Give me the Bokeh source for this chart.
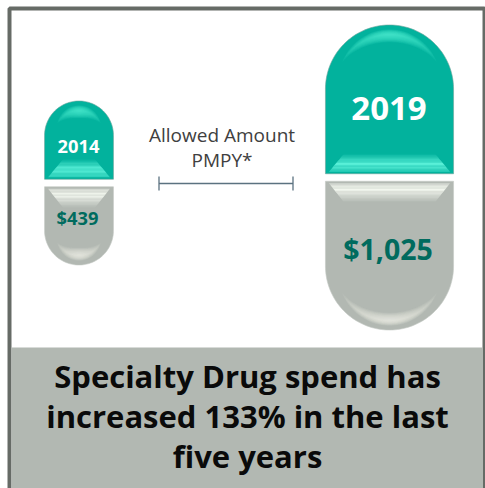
import numpy as np
from bokeh.core.properties import value
from bokeh.embed import file_html
from bokeh.models import Range1d
from bokeh.plotting import figure
from bokeh.resources import INLINE

years = ["2014", "2019"]
allowed_amount = [439, 1025]
amount_labels = ["$439", "$1,025"]
metric_lines = ["Allowed Amount", "PMPY*"]
summary_lines = ["Specialty Drug spend has", "increased 133% in the last", "five years"]

W, H = 485, 488
TEAL = "#02B29D"
TEAL_LIGHT = "#5CF2DA"
GREY = "#B2B8B2"
GREY_LIGHT = "#F4F8F0"
FRAME = "#666B66"
DARK_TEAL = "#006B5E"
FONT = value("Open Sans")

# Capsule size grows linearly with the dollar amount.
def capsule_height(amount):
    return 58.4 + 0.2406 * amount

centres_x = [78.5, 389.0]
centres_y = [182.5, 177.0]
font_px = [[18.3, 18.3], [33, 28.5]]
amount_offset = [0.21, 0.235]
GAP = 7.5

p = figure(width=W, height=H, output_backend="svg", toolbar_location=None,
           x_range=Range1d(0, W), y_range=Range1d(H, 0),
           min_border=0, outline_line_color=None, background_fill_color="white")
p.axis.visible = False
p.grid.visible = False


def half_capsule(cx, join_y, tip_y, width):
    """Outline of one half: flat edge at join_y, round cap ending at tip_y."""
    r = width / 2
    sign = 1 if tip_y > join_y else -1
    cap_y = tip_y - sign * r
    a = np.linspace(-np.pi / 2, np.pi / 2, 90)
    xs = cx + r * np.sin(a)
    ys = cap_y + sign * r * np.cos(a)
    return np.r_[cx - r, xs, cx + r], np.r_[join_y, ys, join_y], cap_y, sign, r


def glow(cx, cap_y, sign, r, colour, inset, max_angle, thickness, layers=12, alpha=0.1):
    """Soft crescent inside the round cap, built from stacked translucent lenses."""
    for i in range(layers):
        t = i / (layers - 1)
        limit = max_angle * (1 - 0.85 * t)
        half = thickness * (1 - 0.85 * t)
        a = np.linspace(-limit, limit, 40)
        bulge = np.cos(np.pi / 2 * a / limit)
        rc = r - inset
        outer = rc + half * bulge * 0.8
        inner = rc - half * bulge * 1.2
        rad = np.r_[outer, inner[::-1]]
        ang = np.r_[a, a[::-1]]
        p.patch(cx + rad * np.sin(ang), cap_y + sign * rad * np.cos(ang),
                fill_color=colour, fill_alpha=alpha, line_color=None)


def bevel(cx, edge_y, inner_y, width, top_margin, colour, peak, steps=14):
    """Trapezoid next to the capsule's flat edge, shaded in thin horizontal strips."""
    half_out = width / 2 - top_margin
    half_in = half_out - 15
    ys = np.linspace(edge_y, inner_y, steps + 1)
    for j in range(steps):
        f0, f1 = j / steps, (j + 1) / steps
        mid = (f0 + f1) / 2
        strength = np.clip(mid / peak, 0, 1) * 0.55 + 0.45 if mid < peak else (1 - mid) / (1 - peak)
        h0 = half_out + (half_in - half_out) * f0
        h1 = half_out + (half_in - half_out) * f1
        p.patch([cx - h0, cx + h0, cx + h1, cx - h1], [ys[j], ys[j], ys[j + 1], ys[j + 1]],
                fill_color=colour, fill_alpha=float(strength), line_color=None)


# Frame and the summary panel
p.quad(left=9, right=484, top=8, bottom=H + 4, fill_color=None, line_color=FRAME, line_width=4)
p.quad(left=11, right=482.5, top=347, bottom=H, fill_color=GREY, line_color=None)

for i, amount in enumerate(allowed_amount):
    total = capsule_height(amount)
    width = total * 0.42
    cx, cy = centres_x[i], centres_y[i]
    upper_join, lower_join = cy - GAP / 2, cy + GAP / 2
    upper_tip, lower_tip = cy - total / 2, cy + total / 2

    xs, ys, cap_y, sign, r = half_capsule(cx, upper_join, upper_tip, width)
    p.patch(xs, ys, fill_color=TEAL, line_color="#6FA39A", line_width=0.6)
    glow(cx, cap_y, sign, r, TEAL_LIGHT, 9.5, 1.05, 6.5)
    bevel(cx, upper_join - 2, upper_join - 20, width, 3.5, TEAL_LIGHT, 0.45)

    xs, ys, cap_y, sign, r = half_capsule(cx, lower_join, lower_tip, width)
    p.patch(xs, ys, fill_color=GREY, line_color="#C4CAC4", line_width=0.6)
    glow(cx, cap_y, sign, r, GREY_LIGHT, 9.5, 1.05, 6.5)
    bevel(cx, lower_join + 2, lower_join + 21, width, 3.5, GREY_LIGHT, 0.3)

    p.text([cx - 0.5], [cy - total * 0.225], text=[years[i]], text_color="white",
           text_font=FONT, text_font_style="bold", text_font_size=f"{font_px[i][0]}px",
           text_align="center", text_baseline="middle")
    p.text([cx - 1.5], [cy + total * amount_offset[i]], text=[amount_labels[i]], text_color=DARK_TEAL,
           text_font=FONT, text_font_style="bold", text_font_size=f"{font_px[i][1]}px",
           text_align="center", text_baseline="middle")

# Metric caption with its bracket
p.text([221.5, 221.5], [134, 159], text=metric_lines, text_color="#404040",
       text_font=FONT, text_font_size="19px",
       text_align="center", text_baseline="middle")
p.segment([158.5, 158.5, 292.5], [183, 176, 176], [292.5, 158.5, 292.5], [183, 190, 190],
          line_color="#5B7280", line_width=1.3)

# Summary statement
p.text([247, 247, 247], [375, 415, 455], text=summary_lines, text_color="#0A0A0A",
       text_font=FONT, text_font_style="bold", text_font_size="31px",
       text_align="center", text_baseline="middle")

open("out.html", "w").write(file_html(p, INLINE))
